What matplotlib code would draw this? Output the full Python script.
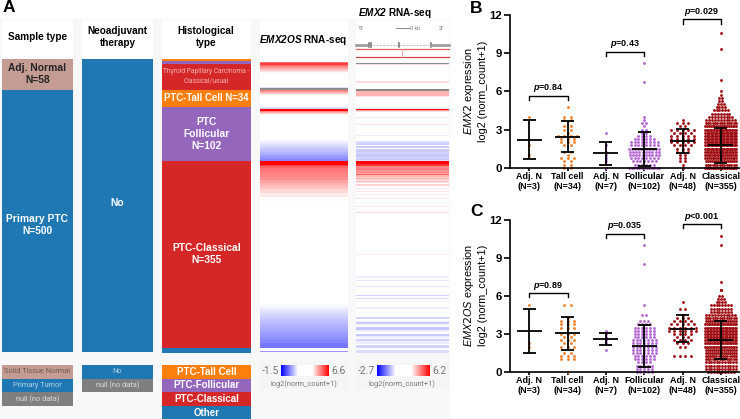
import numpy as np
import matplotlib
matplotlib.use('Agg')
import matplotlib.pyplot as plt
from matplotlib.patches import Rectangle
from matplotlib.colors import LinearSegmentedColormap, Normalize
from matplotlib.cm import ScalarMappable

plt.rcParams['font.family'] = ['Liberation Sans', 'DejaVu Sans']
plt.rcParams['mathtext.fontset'] = 'custom'
plt.rcParams['mathtext.it'] = 'Liberation Sans:italic'
plt.rcParams['mathtext.bf'] = 'Liberation Sans:bold'
plt.rcParams['mathtext.bfit'] = 'Liberation Sans:italic:bold'
plt.rcParams['mathtext.default'] = 'regular'

W, H = 740, 419

# panel A: stacked sample columns
sample_rows = [58, 500]
sample_cols = ['#c49c94', '#1f77b4']
neo_rows = [558]
neo_cols = ['#1f77b4']
hist_rows = [3, 7, 48, 34, 102, 355, 9]
hist_cols = ['#ff7f0e', '#9467bd', '#d62728', '#ff7f0e', '#9467bd', '#d62728', '#1f77b4']

# panel A: heatmap rows, log2 value and number of samples in the block (nan = no data)
n = float('nan')
os_vals = [2.5, 5.4, 5.9, 5.4, 5.1, 4.9, 4.7, 4.5, 4.3, 4.1, 3.9, 2.5, 1, n,
           5.2, 5, 4.6, 4.3, 4, 3.8, 2.5, 1, 0.8, 6.6, 5.2, 4.7, 4.2, 3.9, 2.5,
           1.3, 1.2, 1.1, 1.0, 0.9, 0.8, 0.7, 0.6, 0.5, 0.4, 0.3, 0.2, 0.1, 0,
           6.6, 5.9, 5.5, 5.3, 5.2, 5.1, 5, 4.8, 4.6, 4.4, 4.2, 4, 3.8, 2.5,
           1.3, 1.25, 1.2, 1.1, 1, 0.95, 0.9, 0.85, 0.8, 0.7, 0.65, 0.6, 0.55, 0.5, 0.45, 0.4,
           0.35, 0.3, 0.25, 0.2, 0.15, 0.1, 0.05, 0, -0.2, 2.5, 0.2]
os_rows = [6, 2, 3, 2, 2, 2, 2, 2, 2, 2, 2, 27, 1, 4,
           2, 2, 2, 2, 2, 2, 20, 2, 2, 3, 2, 2, 2, 2, 46,
           3, 3, 3, 3, 3, 3, 3, 3, 3, 3, 3, 3, 3, 3,
           7, 3, 4, 5, 5, 6, 6, 6, 6, 6, 7, 7, 8, 196,
           3, 3, 3, 3, 3, 3, 3, 3, 3, 3, 3, 3, 3, 3, 3, 3,
           3, 3, 3, 3, 3, 3, 3, 5, 10, 5, 3]
emx2_vals = [2, n, 3.5, 2, 3.5, 2, n, 4.0, 3.4, 2, 0.2, 6.2, 4.2, 3.5, 2, 3.4, 2, 3.4, 2, 0.2, 2,
             0, 1, -0.1, 0.4, -0.2, 0.4, -0.2, -0.1, -0.3, 0, -0.25, 0,
             6.2, 5.6, 4.5, 4.7, 4.4, 4.5, 4.2, 5, 4.0, 3.6, 4.1, 3.5, 3.8, 3.5, 2, 3.6, 2, 3.4, 2, 3.4, 2, 3.3, 2, 3.4, 2,
             2, 3.4, 2, 3.5, 2, 3.6, 2, 3.3, 2,
             0.2, 1, 0.1, 1, 0.1, 0.9, -0.1, 0.7, 0, 0.9, 0.3, 0.9, 0.2, 0.9, 0.3, 0.9, -0.1, 0.5, 0.2,
             -0.2, 0.3, 0.7, -0.3, 0.2, 0.7, -0.25, 0.2, 0.6, -0.15, 0.2, 0.5, -0.1, 2, 0]
emx2_rows = [8, 2, 2, 30, 3, 12, 4, 10, 1, 20, 2, 3, 2, 2, 10, 1, 12, 1, 20, 2, 8,
             4, 1, 4, 1, 4, 1, 6, 4, 6, 2, 4, 2,
             6, 4, 3, 3, 4, 3, 2, 2, 3, 2, 2, 3, 2, 3, 2, 3, 3, 2, 4, 2, 4, 2, 5, 2, 4,
             10, 2, 10, 1, 38, 1, 40, 1, 40,
             3, 5, 2, 9, 2, 14, 3, 3, 3, 4, 2, 9, 3, 6, 2, 8, 4, 3, 2,
             4, 4, 2, 5, 5, 3, 4, 4, 2, 4, 4, 2, 7, 4, 4]

# panels B and C
groups = ['Adj. N\n(N=3)', 'Tall cell\n(N=34)', 'Adj. N\n(N=7)', 'Follicular\n(N=102)', 'Adj. N\n(N=48)', 'Classical\n(N=355)']
group_cols = ['#f0832f', '#f0832f', '#b56bd3', '#b56bd3', '#a00f14', '#a00f14']
group_steps = [0.17, 0.17, 0.17, 0.1, 0.15, 0.075]
levels = [0, 0.25, 0.5, 0.75, 1, 1.25, 1.5, 1.75, 2, 2.25, 2.5, 2.75, 3, 3.25, 3.5, 3.75, 4, 4.25, 4.5, 4.75, 5, 5.25, 5.5, 5.75, 6]

b_counts = [
    [0, 0, 0, 0, 1, 0, 0, 1, 0, 0, 0, 0, 0, 0, 0, 0, 1, 0, 0, 0, 0, 0, 0, 0, 0],
    [2, 2, 2, 3, 1, 2, 0, 2, 3, 3, 4, 1, 2, 2, 0, 2, 2, 0, 0, 1, 0, 0, 0, 0, 0],
    [1, 0, 1, 1, 1, 1, 0, 1, 0, 0, 0, 1, 0, 0, 0, 0, 0, 0, 0, 0, 0, 0, 0, 0, 0],
    [13, 6, 7, 8, 10, 10, 11, 8, 8, 6, 4, 2, 2, 1, 2, 1, 1, 0, 0, 0, 0, 0, 0, 0, 0],
    [1, 1, 2, 2, 2, 3, 3, 4, 5, 5, 5, 4, 5, 2, 3, 1, 0, 0, 0, 0, 0, 0, 0, 0, 0],
    [18, 14, 16, 18, 20, 22, 24, 24, 24, 24, 24, 24, 22, 18, 14, 11, 9, 7, 6, 4, 3, 2, 2, 1, 1],
]
b_extra = [[], [], [], [6.75, 8.25], [], [6.9, 9.3, 10.6]]
b_mean = [2.2, 2.4, 1.15, 1.45, 2.1, 1.75]
b_low = [0.7, 1.2, 0.25, 0.1, 1.15, 0.4]
b_high = [3.75, 3.7, 2.05, 2.8, 3.05, 3.1]
b_brackets = [(1, 2, 5.65, 'p', '=0.84'), (3, 4, 9.1, 'p', '=0.43'), (5, 6, 11.65, 'p', '=0.029')]

c_counts = [
    [0, 0, 0, 0, 0, 0, 0, 0, 1, 1, 0, 0, 0, 0, 0, 0, 0, 0, 0, 0, 0, 1, 0, 0, 0],
    [1, 0, 0, 0, 3, 3, 2, 0, 3, 2, 3, 2, 3, 0, 3, 3, 3, 1, 0, 0, 0, 2, 0, 0, 0],
    [0, 0, 0, 0, 0, 0, 0, 1, 0, 1, 1, 1, 1, 1, 0, 0, 0, 0, 0, 0, 0, 0, 0, 0, 0],
    [5, 5, 5, 4, 6, 6, 7, 7, 7, 7, 7, 6, 6, 6, 6, 4, 3, 0, 2, 0, 0, 1, 0, 0, 0],
    [0, 0, 0, 0, 0, 4, 0, 0, 2, 3, 4, 3, 4, 6, 6, 5, 4, 3, 1, 0, 2, 0, 1, 0, 0],
    [10, 12, 12, 12, 14, 15, 16, 16, 18, 20, 22, 22, 22, 22, 22, 20, 16, 14, 11, 8, 8, 8, 4, 3, 2],
]
c_extra = [[], [], [], [8.5, 10.0], [], [6.5, 6.5, 6.5, 7.1, 10.0, 10.7]]
c_mean = [3.2, 3.05, 2.6, 2.05, 3.4, 2.5]
c_low = [1.5, 1.75, 2.15, 0.4, 2.35, 1.0]
c_high = [4.95, 4.35, 3.05, 3.7, 4.5, 4.0]
c_brackets = [(1, 2, 6.2, 'p', '=0.89'), (3, 4, 10.9, 'p', '=0.035'), (5, 6, 11.65, 'p', '<0.001')]

heat_cmap = LinearSegmentedColormap.from_list('heat', [(0, '#0000ff'), (0.35, '#ffffff'), (0.65, '#ffffff'), (1, '#ff0000')])
heat_cmap.set_bad('#8a8a8a')


def px_axes(x0, y0, x1, y1):
    return fig.add_axes([x0 / W, 1 - y1 / H, (x1 - x0) / W, (y1 - y0) / H])


def stacked(x0, x1, y0, y1, rows, cols):
    ax = px_axes(x0, y0, x1, y1)
    ax.bar(np.full(len(rows), 0.5), rows, width=1, bottom=np.cumsum([0] + rows[:-1]), color=cols)
    ax.set_xlim(0, 1)
    ax.set_ylim(sum(rows), 0)
    ax.axis('off')
    return ax


def heat(x0, x1, vals, rows, vmin, vmax):
    ax = px_axes(x0, 59, x1, 352.5)
    edges = np.cumsum([0] + rows)
    ax.pcolormesh([0, 1], edges, np.ma.masked_invalid(np.array(vals)[:, None]), cmap=heat_cmap, norm=Normalize(vmin, vmax))
    ax.set_ylim(edges[-1], 0)
    ax.axis('off')


def legend_rows(x0, x1, y0, labels, cols, tcols, bold=False):
    for i, (lab, c, tc) in enumerate(zip(labels, cols, tcols)):
        bg.add_patch(Rectangle((x0, y0 + i * 13.6), x1 - x0, 13.6, color=c, lw=0))
        if bold:
            bg.text((x0 + x1) / 2, y0 + (i + 0.5) * 13.6, lab, color=tc, ha='center', va='center', fontsize=7, fontweight='bold')
        else:
            bg.text((x0 + x1) / 2, y0 + (i + 0.5) * 13.6, lab, color=tc, ha='center', va='center', fontsize=5.3, family='Roboto')


def colorbar(x0, x1, lo, hi):
    box = px_axes(x0, 365, x1, 376)
    fig.colorbar(ScalarMappable(Normalize(lo, hi), heat_cmap), cax=box, orientation='horizontal')
    box.set_xticks([])
    box.axis('off')


def swarm(ax, pos, counts, extra, color, step0):
    xs, ys = [], []
    for lev, c in zip(levels, counts):
        step = min(step0, 0.85 / max(c, 1))
        xs += list(pos + (np.arange(c) - (c - 1) / 2) * step)
        ys += [lev] * c
    xs += [pos] * len(extra)
    ys += extra
    ax.scatter(xs, ys, s=4.3, color=color, linewidths=0, clip_on=False, zorder=2)


def dot_panel(y0, y1, counts, extra, mean, low, high, brackets, gene):
    ax = px_axes(510, y0, 740, y1)
    for i in range(6):
        pos = i + 1
        swarm(ax, pos, counts[i], extra[i], group_cols[i], group_steps[i])
        ax.hlines(mean[i], pos - 0.33, pos + 0.33, color='k', lw=1.3, zorder=3)
        ax.vlines(pos, low[i], high[i], color='k', lw=1.3, zorder=3)
        ax.hlines([low[i], high[i]], pos - 0.17, pos + 0.17, color='k', lw=1.3, zorder=3)
    for a, b, y, p, rest in brackets:
        ax.plot([a, a, b, b], [y - 0.33, y, y, y - 0.33], color='k', lw=1, clip_on=False)
        ax.text((a + b) / 2, y + 0.12, r'$\bfit{%s}$%s' % (p, rest), ha='center', va='bottom', fontsize=6.5, fontweight='bold')
    ax.set_xlim(0.5, 6.5)
    ax.set_ylim(0, 12)
    ax.set_yticks([0, 3, 6, 9, 12])
    ax.set_xticks(range(1, 7))
    ax.set_xticklabels(groups, fontsize=6.5, fontweight='bold', linespacing=1.15)
    ax.tick_params(axis='y', labelsize=8.2, width=1.2, length=4, pad=2)
    ax.tick_params(axis='x', width=1.2, length=2.5, pad=0.5)
    for lab in ax.get_yticklabels():
        lab.set_fontweight('bold')
    ax.spines['top'].set_visible(False)
    ax.spines['right'].set_visible(False)
    ax.spines['left'].set_linewidth(1.2)
    ax.spines['bottom'].set_linewidth(1.2)
    ax.patch.set_alpha(0)
    ax.set_ylabel(r'$\it{%s}$ expression' % gene + '\nlog2 (norm_count+1)', fontsize=7.8, labelpad=0.5, linespacing=1.3)


fig = plt.figure(figsize=(W / 100, H / 100), dpi=100)

# layout layer in pixel coordinates
bg = fig.add_axes([0, 0, 1, 1])
bg.set_xlim(0, W)
bg.set_ylim(H, 0)
bg.axis('off')
bg.add_patch(Rectangle((0, 19), 450, 400, color='#f8f8f8', lw=0))
for x0, x1 in [(2, 73), (82, 153), (162, 251), (260, 348), (356, 449)]:
    bg.add_patch(Rectangle((x0, 20), x1 - x0, 39, color='white', lw=0))
bg.text(3, 8, 'A', fontsize=12.5, fontweight='bold', va='center')
bg.text(470, 8.5, 'B', fontsize=12.5, fontweight='bold', va='center')
bg.text(470, 211.5, 'C', fontsize=12.5, fontweight='bold', va='center')

hkw = dict(ha='center', va='center', fontsize=7.2, fontweight='bold', linespacing=1.25)
bg.text(37.5, 37, 'Sample type', **hkw)
bg.text(117.5, 37, 'Neoadjuvant\ntherapy', **hkw)
bg.text(206, 37, 'Histological\ntype', **hkw)
bg.text(303, 40, r'$\bfit{EMX2OS}$ RNA-seq', **hkw)
bg.text(395, 13, r'$\bfit{EMX2}$ RNA-seq', **hkw)

# gene track above the EMX2 column
bg.plot([356, 449], [45, 45], color='#c4c4c4', lw=0.8, ls=(0, (2, 1)))
bg.plot([356, 368], [45, 45], color='#a0a0a0', lw=2)
bg.plot([368, 372], [45, 45], color='#909090', lw=4, solid_capstyle='butt')
bg.plot([398, 400], [45, 45], color='#909090', lw=4, solid_capstyle='butt')
bg.plot([430, 432], [45, 45], color='#909090', lw=4, solid_capstyle='butt')
bg.plot([432, 449], [45, 45], color='#a0a0a0', lw=2)
bg.plot([356, 449], [49, 49], color='#e06060', lw=0.9)
bg.plot([356, 449], [57, 57], color='#d84040', lw=0.9)
bg.plot([402, 402], [49, 57], color='#eeaaaa', lw=0.7)
bg.plot([396, 409], [28, 28], color='#777777', lw=0.6)
bg.text(361, 28, "5'", fontsize=4.5, color='#666666', ha='center', va='center')
bg.text(441, 28, "3'", fontsize=4.5, color='#666666', ha='center', va='center')
bg.text(410, 28.5, '0 kb', fontsize=3.8, color='#777777', va='center')

# heat legends
for x0, x1 in [(260, 348), (356, 449)]:
    bg.add_patch(Rectangle((x0, 362), x1 - x0, 27, color='#f5f5f5', lw=0))
tkw = dict(family='Roboto', color='#777777', va='center')
bg.text(279, 371, '-1.5', fontsize=7.5, ha='right', **tkw)
bg.text(331, 371, '6.6', fontsize=7.5, ha='left', **tkw)
bg.text(304, 384, 'log2(norm_count+1)', fontsize=5.3, ha='center', **tkw)
bg.text(375, 371, '-2.7', fontsize=7.5, ha='right', **tkw)
bg.text(432, 371, '6.2', fontsize=7.5, ha='left', **tkw)
bg.text(402, 384, 'log2(norm_count+1)', fontsize=5.3, ha='center', **tkw)

legend_rows(2, 73, 365, ['Solid Tissue Normal', 'Primary Tumor', 'null (no data)'],
            ['#c49c94', '#1f77b4', '#7f7f7f'], ['#6d5a55', '#b5d3ea', '#dddddd'])
legend_rows(82, 153, 365, ['No', 'null (no data)'], ['#1f77b4', '#7f7f7f'], ['#b5d3ea', '#dddddd'])
legend_rows(162, 251, 365, ['PTC-Tall Cell', 'PTC-Follicular', 'PTC-Classical', 'Other'],
            ['#ff7f0e', '#9467bd', '#d62728', '#1f77b4'], ['white'] * 4, bold=True)

# stacked columns
lkw = dict(ha='center', va='center', fontsize=7.4, fontweight='bold', linespacing=1.25)
a1 = stacked(2, 73, 59, 352.5, sample_rows, sample_cols)
a1.text(0.5, 29, 'Adj. Normal\nN=58', color='#222222', **lkw)
a1.text(0.5, 316, 'Primary PTC\nN=500', color='white', **lkw)
a2 = stacked(82, 153, 59, 352.5, neo_rows, neo_cols)
a2.text(0.5, 274, 'No', color='white', **lkw)
a3 = stacked(162, 251, 59, 352.5, hist_rows, hist_cols)
a3.text(0.5, 33, 'Thyroid Papillary Carcinoma -\nClassical/usual', color='#f3b5b5', ha='center', va='center',
        fontsize=4.8, family='Roboto', linespacing=1.6)
a3.text(0.5, 75, 'PTC-Tall Cell N=34', color='white', ha='center', va='center', fontsize=6.9, fontweight='bold')
a3.text(0.5, 143, 'PTC\nFollicular\nN=102', color='white', **lkw)
a3.text(0.5, 370, 'PTC-Classical\nN=355', color='white', **lkw)

# heatmaps
heat(260, 348, os_vals, os_rows, -1.5, 6.6)
heat(356, 449, emx2_vals, emx2_rows, -2.7, 6.2)
colorbar(281, 329, -1.5, 6.6)
colorbar(377, 430, -2.7, 6.2)

# dot plots
dot_panel(15, 167.7, b_counts, b_extra, b_mean, b_low, b_high, b_brackets, 'EMX2')
dot_panel(219.7, 372, c_counts, c_extra, c_mean, c_low, c_high, c_brackets, 'EMX2OS')

fig.savefig('out.png', dpi=100)
